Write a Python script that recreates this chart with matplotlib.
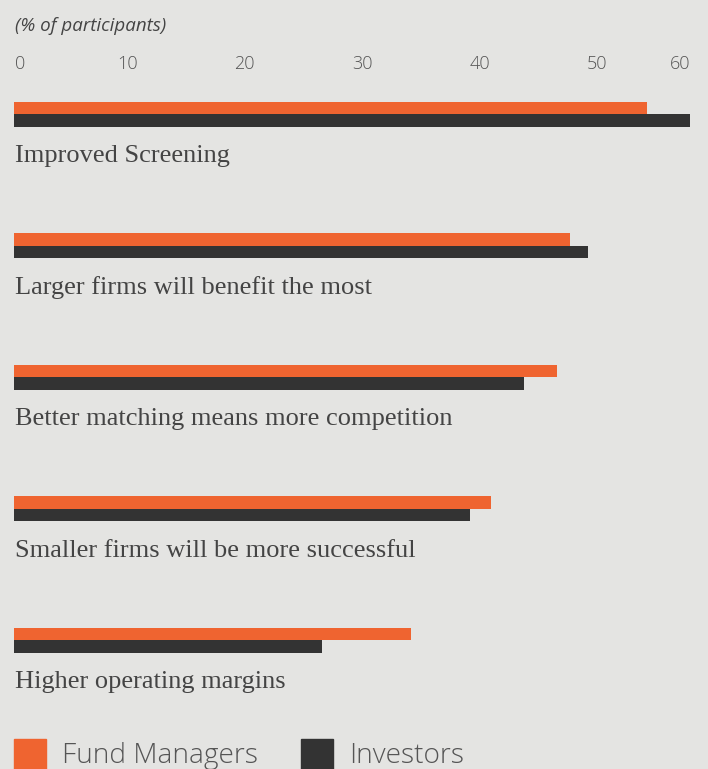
import matplotlib
matplotlib.use("Agg")
import matplotlib.pyplot as plt
import matplotlib.transforms as mtransforms
from matplotlib.patches import Rectangle

# Data
categories = [
    "Improved Screening",
    "Larger firms will benefit the most",
    "Better matching means more competition",
    "Smaller firms will be more successful",
    "Higher operating margins",
]
fund_managers = [53.8, 47.3, 46.2, 40.6, 33.8]
investors = [57.5, 48.8, 43.4, 38.8, 26.2]
ticks = [0, 10, 20, 30, 40, 50, 60]
series_names = ["Fund Managers", "Investors"]

BG = "#e4e4e2"
ORANGE = "#ef6430"
DARK = "#333333"
TEXT = "#555555"

W, H = 708, 769
fig = plt.figure(figsize=(W / 100, H / 100), dpi=100, facecolor=BG)

# axes covers the full height, starts where the bars start
ax = fig.add_axes([14 / W, 0, 1 - 14 / W, 1])
ax.set_facecolor(BG)
px_per_unit = 11.76
ax.set_xlim(0, (W - 14) / px_per_unit)

row = 131.6  # px between groups
top = 114
ax.set_ylim((H - top) / row, -top / row)

bh = 12.5 / row
ypos = list(range(len(categories)))
ax.barh([y - bh / 2 for y in ypos], fund_managers, height=bh, color=ORANGE, label=series_names[0])
ax.barh([y + bh / 2 for y in ypos], investors, height=bh, color=DARK, label=series_names[1])

for y, cat in zip(ypos, categories):
    ax.text(0.1, y + 42 / row, cat, ha="left", va="center",
            fontsize=19, family="Liberation Serif", color="#444444")

# tick labels along the top
tick_y = -50 / row
shift = mtransforms.offset_copy(ax.transData, fig=fig, x=-4.5, y=0, units="dots")
for i, t in enumerate(ticks):
    if i == 0:
        ax.text(t + 0.1, tick_y, str(t), ha="left", va="center", fontsize=13,
                family="Open Sans", color=TEXT, fontweight="light")
    elif i == len(ticks) - 1:
        ax.text(min(t, 57.5), tick_y, str(t), ha="right", va="center", fontsize=13,
                family="Open Sans", color=TEXT, fontweight="light")
    else:
        ax.text(t, tick_y, str(t), ha="center", va="center", fontsize=13,
                family="Open Sans", color=TEXT, fontweight="light", transform=shift)

fig.text(15 / W, 1 - 26 / H, "(% of participants)", ha="left", va="center",
         fontsize=13.5, style="italic", family="Open Sans", color="#444444")

ax.axis("off")

# legend at the bottom (partially cut off like the original)
legend_items = [(14, 62, ORANGE, series_names[0]), (301, 349, DARK, series_names[1])]
for sx, tx, col, name in legend_items:
    fig.patches.append(Rectangle((sx / W, 1 - 769 / H), 32 / W, 30 / H,
                                 transform=fig.transFigure, color=col))
    fig.text(tx / W, 1 - 756 / H, name, ha="left", va="center", fontsize=20.2,
             family="Open Sans", color=TEXT, fontweight="light")

fig.savefig("out.png", dpi=100, facecolor=BG)
